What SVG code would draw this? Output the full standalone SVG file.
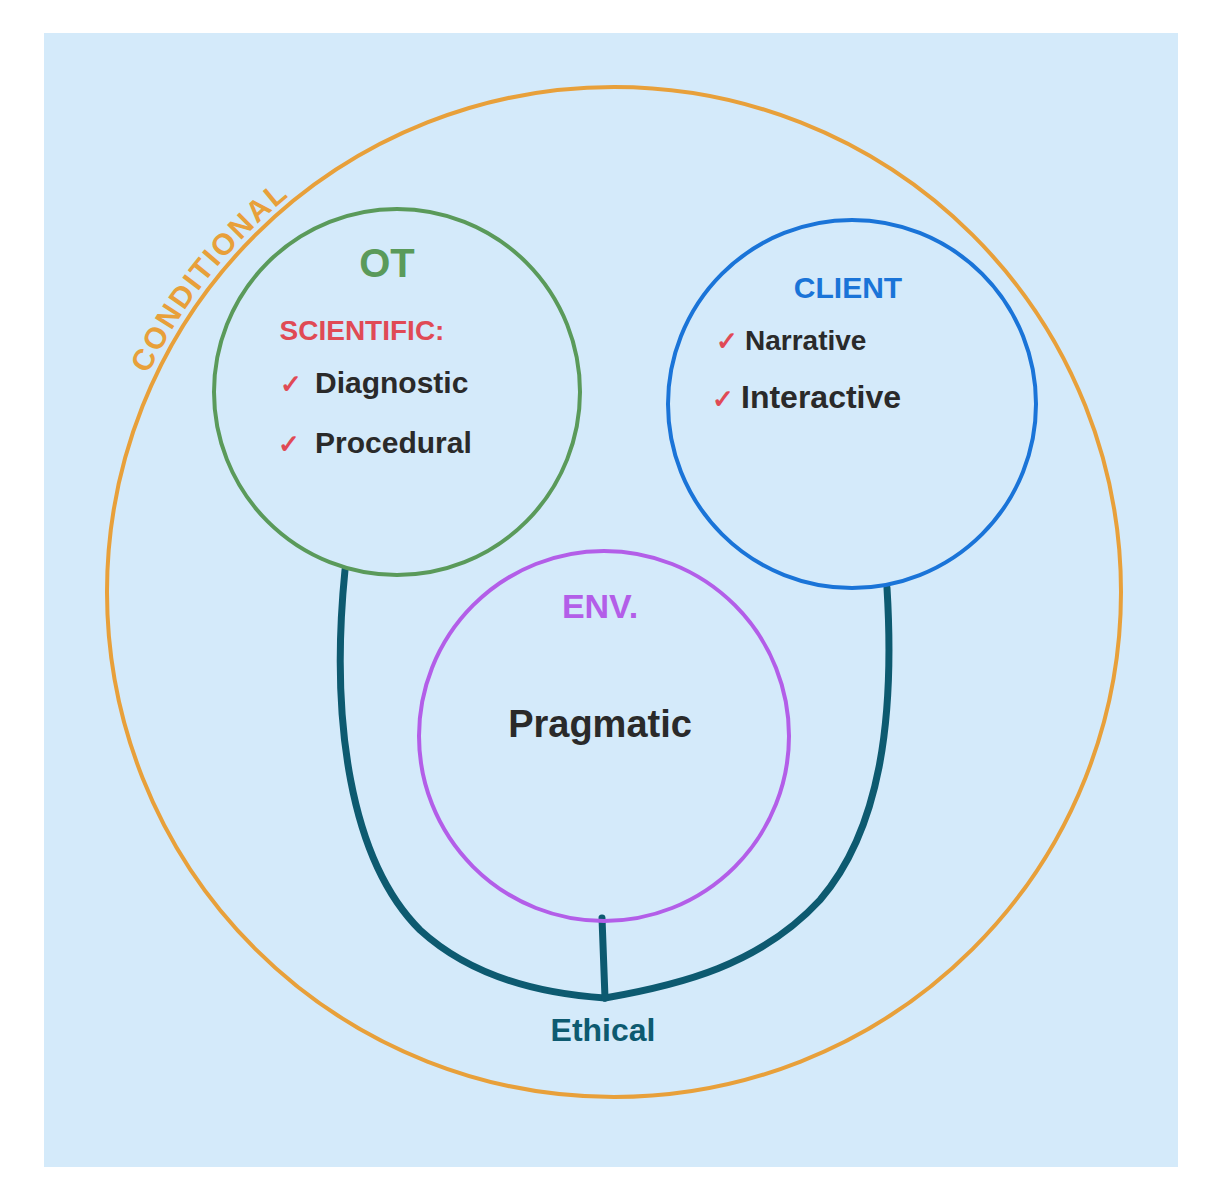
<svg xmlns="http://www.w3.org/2000/svg" width="1229" height="1200" viewBox="0 0 1229 1200">
<defs>
<style>
.t{font-family:"Comic Sans MS","Liberation Sans",sans-serif;font-weight:bold}
.c{fill:none;stroke-width:4}
.chk{fill:#e04a55}
.blk{fill:#2a2a2a}
</style>
<path id="arc" d="M 99,592 A 515 510 0 0 1 614,82"/>
</defs>
<rect width="1229" height="1200" fill="#ffffff"/>
<rect x="44" y="33" width="1134" height="1134" fill="#d4eafa"/>
<g id="conditional">
<ellipse class="c" cx="614" cy="592" rx="507" ry="505" stroke="#e8a03a"/>
<text class="t" font-size="30" fill="#e8a03a" letter-spacing="2"><textPath href="#arc" startOffset="225">CONDITIONAL</textPath></text>
</g>
<g id="connectors" fill="none" stroke="#0d5a70" stroke-width="7" stroke-linecap="round">
<path d="M 345,570 C 330,720 350,860 420,930 C 480,985 560,995 605,998"/>
<path d="M 887,588 C 895,720 880,830 820,900 C 760,965 680,985 605,998"/>
<path d="M 602,918 L 605,998"/>
</g>
<g id="ot">
<circle class="c" cx="397" cy="392" r="183" stroke="#5a9a5a"/>
<text class="t" x="387" y="277" font-size="40" fill="#5a9a5a" text-anchor="middle">OT</text>
<text class="t" x="362" y="340" font-size="28" fill="#e04a55" text-anchor="middle">SCIENTIFIC:</text>
<text class="t chk" x="280" y="393" font-size="26">✓</text>
<text class="t blk" x="315" y="393" font-size="30">Diagnostic</text>
<text class="t chk" x="278" y="453" font-size="26">✓</text>
<text class="t blk" x="315" y="453" font-size="30">Procedural</text>
</g>
<g id="client">
<circle class="c" cx="852" cy="404" r="184" stroke="#1a74d8"/>
<text class="t" x="848" y="298" font-size="30" fill="#1a74d8" text-anchor="middle">CLIENT</text>
<text class="t chk" x="716" y="350" font-size="26">✓</text>
<text class="t blk" x="745" y="350" font-size="28">Narrative</text>
<text class="t chk" x="712" y="408" font-size="26">✓</text>
<text class="t blk" x="741" y="408" font-size="32">Interactive</text>
</g>
<g id="env">
<circle class="c" cx="604" cy="736" r="185" stroke="#b35ee8"/>
<text class="t" x="600" y="618" font-size="34" fill="#b35ee8" text-anchor="middle">ENV.</text>
<text class="t blk" x="600" y="737" font-size="38" text-anchor="middle">Pragmatic</text>
</g>
<g id="ethical">
<text class="t" x="603" y="1041" font-size="32" fill="#0d5a70" text-anchor="middle">Ethical</text>
</g>
</svg>
